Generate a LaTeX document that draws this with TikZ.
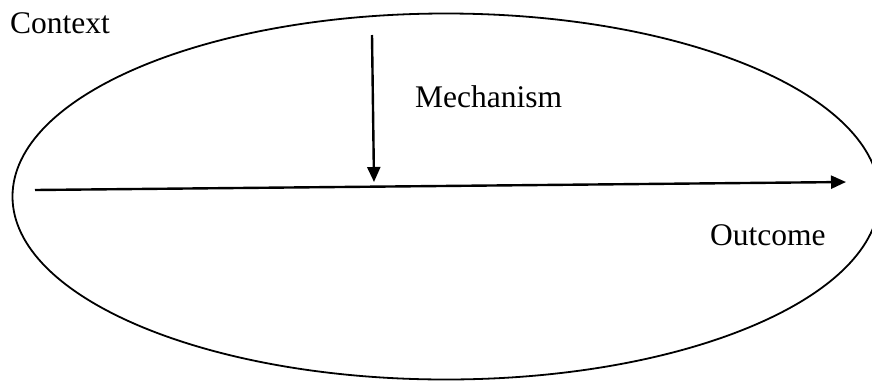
\documentclass[tikz,border=0pt]{standalone}
\usepackage{fontspec}
\setmainfont{Liberation Serif}
\usepackage{tikz}
\usetikzlibrary{arrows.meta, positioning}
\tikzset{
  % Text and line styles
  cmolabel/.style={anchor=base west, inner sep=0pt, font=\fontsize{31.5}{36}\selectfont},
  arrow/.style={-{Triangle[length=15pt, width=13pt]}, line width=2.4pt},
  contextline/.style={line width=1.8pt},
}
\begin{document}
\begin{tikzpicture}[x=1pt, y=-1pt]
    \useasboundingbox (0,0) rectangle (872,381);

    % Context
    \draw[contextline] (446,196.5) ellipse [x radius=433.5, y radius=183];
    \node[cmolabel] (context) at (10,33) {Context};

    % Mechanism
    \coordinate (mtop) at (372,35);
    \coordinate (mtip) at (374,182);
    \node[cmolabel] (mech) at (415,107) {Mechanism};
    \draw[arrow] (mtop) -- (mtip);

    % Outcome
    \coordinate (ostart) at (35,190);
    \coordinate (oend) at (846,182);
    \node[cmolabel] (outcome) at (710,245) {Outcome};
    \draw[arrow] (ostart) -- (oend);
\end{tikzpicture}
\end{document}
